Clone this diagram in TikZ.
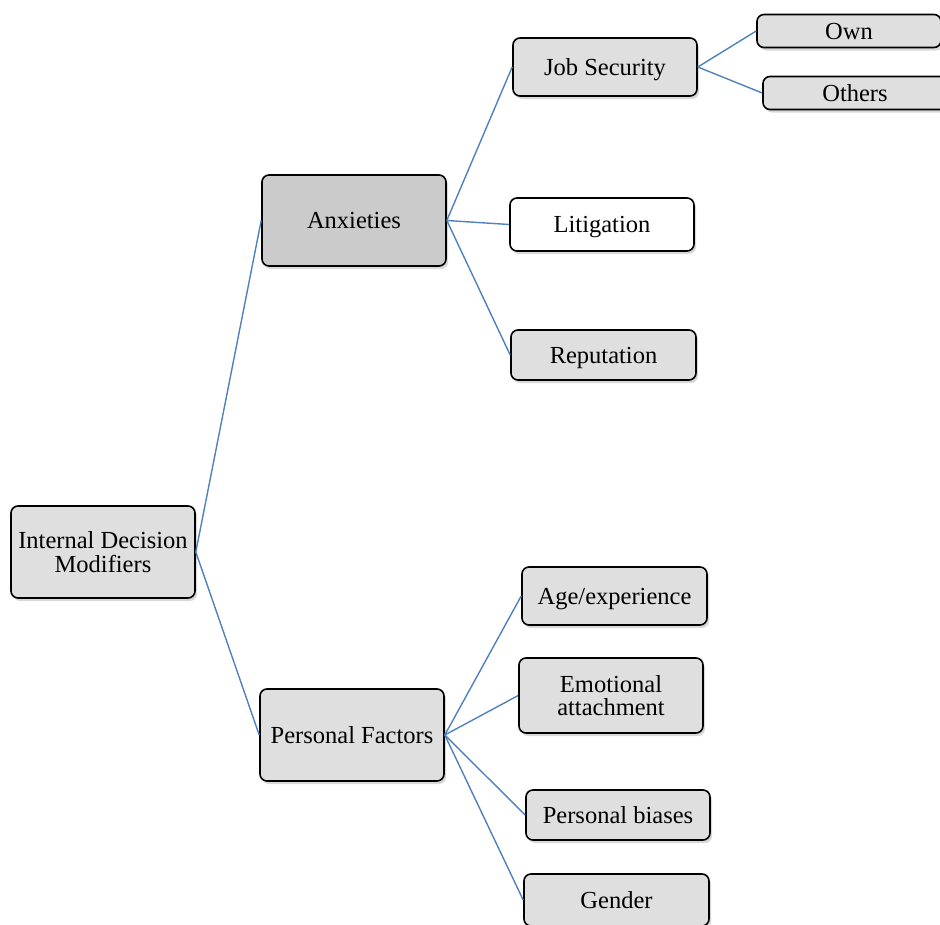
\documentclass[tikz,border=0pt]{standalone}
\usepackage{fontspec}
\setmainfont{Liberation Serif}
\usetikzlibrary{shadows}
\definecolor{boxgray}{HTML}{DFDFDF}
\definecolor{darkgray}{HTML}{CBCBCB}
\definecolor{linkblue}{HTML}{4F81BD}
\tikzset{
  box/.style={draw=black, line width=1.6pt, rounded corners=7pt, fill=boxgray,
    align=center, inner sep=2pt, text depth=0pt, font=\fontsize{24.5}{23.5}\selectfont,
    drop shadow={shadow xshift=2pt, shadow yshift=-3pt, opacity=0.3}},
  link/.style={draw=linkblue, line width=1.4pt}
}
\begin{document}
\begin{tikzpicture}[x=1pt, y=-1pt]
\useasboundingbox (0,0) rectangle (940,924);
\clip (0,0) rectangle (940,924);
% root and main branches
\node[box, minimum width=184pt, minimum height=92pt] (idm) at (103,552) {Internal Decision\\Modifiers};
\node[box, fill=darkgray, minimum width=184pt, minimum height=91pt] (anx) at (354,220.5) {Anxieties};
\node[box, minimum width=184pt, minimum height=92pt] (pf) at (352,735) {Personal Factors};
% anxieties branch
\node[box, minimum width=184pt, minimum height=58pt] (job) at (605,67) {Job Security};
\node[box, fill=white, minimum width=184pt, minimum height=53pt] (lit) at (602,224.5) {Litigation};
\node[box, minimum width=185pt, minimum height=50pt] (rep) at (603.5,355) {Reputation};
\node[box, minimum width=184pt, minimum height=33pt] (own) at (849,31) {Own};
\node[box, minimum width=184pt, minimum height=33pt] (oth) at (855,93) {Others};
% personal factors branch
\node[box, minimum width=185pt, minimum height=58pt] (age) at (614.5,596) {Age/experience};
\node[box, minimum width=184pt, minimum height=75pt] (emo) at (611,695.5) {Emotional\\attachment};
\node[box, minimum width=184pt, minimum height=50pt] (bias) at (618,815) {Personal biases};
\node[box, minimum width=185pt, minimum height=52pt] (gen) at (616.5,900) {Gender};
% connectors
\draw[link] (idm.east) -- (anx.west);
\draw[link] (idm.east) -- (pf.west);
\draw[link] (anx.east) -- (job.west);
\draw[link] (anx.east) -- (lit.west);
\draw[link] (anx.east) -- (rep.west);
\draw[link] (job.east) -- (own.west);
\draw[link] (job.east) -- (oth.west);
\draw[link] (pf.east) -- (age.west);
\draw[link] (pf.east) -- (emo.west);
\draw[link] (pf.east) -- (bias.west);
\draw[link] (pf.east) -- (gen.west);
\end{tikzpicture}
\end{document}
